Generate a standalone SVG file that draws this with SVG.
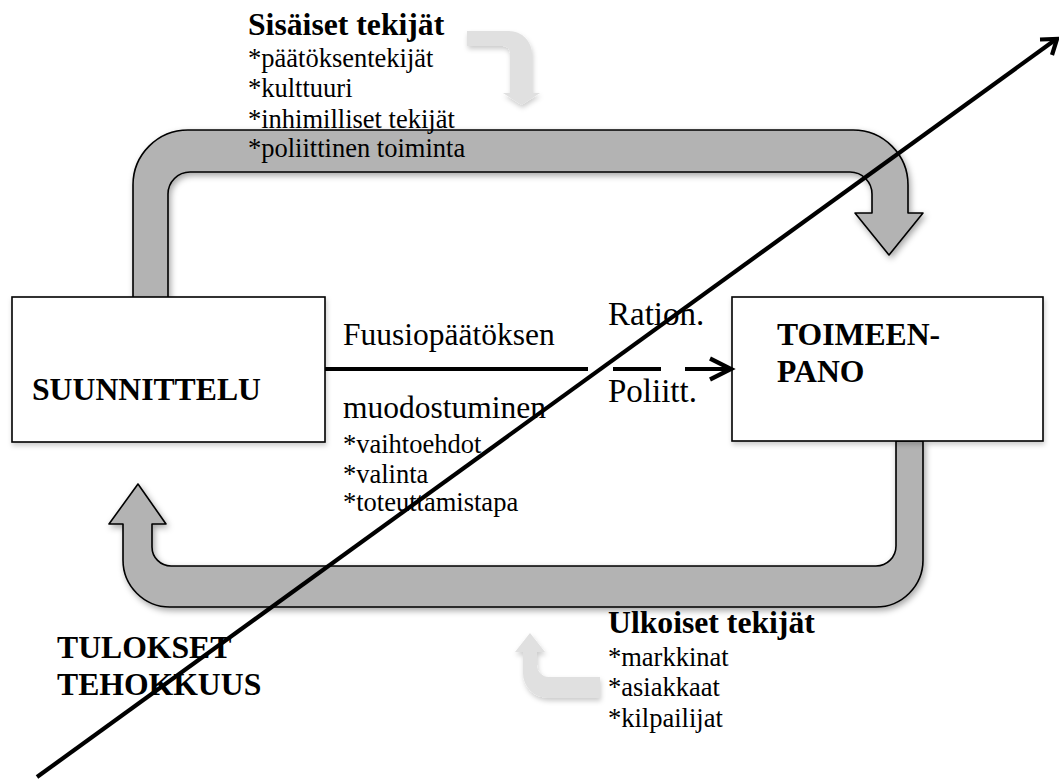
<svg xmlns="http://www.w3.org/2000/svg" width="1059" height="779" viewBox="0 0 1059 779">
  <defs>
    <filter id="shadow" x="-10%" y="-10%" width="130%" height="140%">
      <feDropShadow dx="2" dy="3" stdDeviation="3" flood-color="#000" flood-opacity="0.35"/>
    </filter>
    <filter id="softShadow" x="-20%" y="-20%" width="150%" height="160%">
      <feDropShadow dx="1" dy="3" stdDeviation="2.5" flood-color="#000" flood-opacity="0.2"/>
    </filter>
  </defs>
  <style>
    .flow { fill: #b3b3b3; stroke: #000; stroke-width: 1.6; stroke-linejoin: round; }
    .hint { fill: #e0e0e0; stroke: none; }
    .box { fill: #fff; stroke: #000; stroke-width: 1.6; }
    text { font-family: 'Liberation Serif', 'Times New Roman', 'DejaVu Serif', serif; fill: #000; }
    .head { font-weight: bold; font-size: 31.7px; }
    .label { font-size: 31.5px; }
    .item { font-size: 26.5px; }
    .conn { fill: none; stroke: #000; stroke-width: 4.2; }
  </style>

  <!-- feedback arrows -->
  <g id="flow-top">
    <path class="flow" filter="url(#shadow)" d="M133,298 V185 A55,55 0 0 1 188,130 H853 A55,55 0 0 1 908,185 V213 H923 L889,255 L855,213 H872 V194 A22,22 0 0 0 850,172 H190 A22,22 0 0 0 168,194 V298 Z"/>
  </g>
  <g id="flow-bottom">
    <path class="flow" filter="url(#shadow)" d="M896,441 V546 A20,20 0 0 1 876,566 H171 A19,19 0 0 1 152,547 V524 H166 L138,484 L109,524 H123 V560 A47,47 0 0 0 170,607 H876 A47,47 0 0 0 923,560 V441 Z"/>
  </g>

  <!-- light influence arrows -->
  <g id="hint-internal">
    <path class="hint" filter="url(#softShadow)" d="M467,31 H509 A23,23 0 0 1 532,54 V93 H540 L521.5,105 L503,93 H510 V53 A7,7 0 0 0 503,46 H467 Z"/>
  </g>
  <g id="hint-external">
    <path class="hint" filter="url(#softShadow)" d="M600,677 H549 A12,12 0 0 1 537,665 V652 H545 L530,633 L515,652 H523 V673 A25,25 0 0 0 548,698 H600 Z"/>
  </g>

  <!-- main nodes -->
  <g id="suunnittelu">
    <rect class="box" filter="url(#softShadow)" x="12" y="297" width="313" height="145"/>
    <text class="head" x="32" y="400">SUUNNITTELU</text>
  </g>
  <g id="toimeenpano">
    <rect class="box" filter="url(#softShadow)" x="732" y="297" width="311" height="144"/>
    <text class="head" x="777" y="345">TOIMEEN-</text>
    <text class="head" x="777" y="382">PANO</text>
  </g>

  <!-- internal factors -->
  <g id="sisaiset">
    <text class="head" x="248" y="35">Sisäiset tekijät</text>
    <text class="item" x="248" y="67">*päätöksentekijät</text>
    <text class="item" x="248" y="97">*kulttuuri</text>
    <text class="item" x="248" y="128">*inhimilliset tekijät</text>
    <text class="item" x="248" y="157">*poliittinen toiminta</text>
  </g>

  <!-- decision formation -->
  <g id="fuusio">
    <text class="label" x="343" y="345">Fuusiopäätöksen</text>
    <text class="label" x="343" y="418">muodostuminen</text>
    <text class="item" x="343" y="453">*vaihtoehdot</text>
    <text class="item" x="343" y="483">*valinta</text>
    <text class="item" x="343" y="511">*toteuttamistapa</text>
  </g>
  <g id="mode">
    <text class="label" x="608" y="325" style="font-size:33px">Ration.</text>
    <text class="label" x="608" y="402" style="font-size:33px">Poliitt.</text>
  </g>

  <!-- results -->
  <g id="tulokset">
    <text class="head" x="57" y="658">TULOKSET</text>
    <text class="head" x="57" y="695">TEHOKKUUS</text>
  </g>

  <!-- external factors -->
  <g id="ulkoiset">
    <text class="head" x="608" y="633">Ulkoiset tekijät</text>
    <text class="item" x="608" y="666">*markkinat</text>
    <text class="item" x="608" y="696">*asiakkaat</text>
    <text class="item" x="608" y="727">*kilpailijat</text>
  </g>

  <!-- connectors -->
  <g id="connectors">
    <path class="conn" d="M325,369 H588 M613,369 H661 M685,369 H729"/>
    <polyline class="conn" points="710,358.5 731,369 710,379.5" stroke-linejoin="miter"/>
    <line class="conn" x1="37" y1="777" x2="1055" y2="40" stroke-width="5"/>
    <polyline class="conn" points="1040,39.5 1057,39 1052,55" stroke-width="5" stroke-linejoin="miter"/>
  </g>
</svg>
